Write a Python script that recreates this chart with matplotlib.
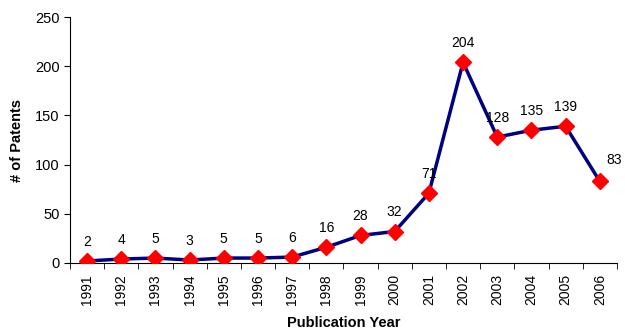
import matplotlib
matplotlib.use("Agg")
import matplotlib.pyplot as plt
import numpy as np

years = ["1991", "1992", "1993", "1994", "1995", "1996", "1997", "1998",
         "1999", "2000", "2001", "2002", "2003", "2004", "2005", "2006"]
patents = [2, 4, 5, 3, 5, 5, 6, 16, 28, 32, 71, 204, 128, 135, 139, 83]

plt.rcParams['font.family'] = ['Liberation Sans', 'DejaVu Sans']

fig = plt.figure(figsize=(6.25, 3.35), dpi=100)
ax = fig.add_axes([0.112, 0.215, 0.875, 0.734])

x = np.arange(len(years))
ax.plot(x, patents, color='#000080', linewidth=2.5, marker='D',
        markersize=8, markerfacecolor='#FF0000', markeredgecolor='#FF0000',
        zorder=3)

for i, v in enumerate(patents):
    if i == len(patents) - 1:
        ax.annotate(str(v), (i, v), xytext=(5, 10), textcoords='offset points',
                    ha='left', va='bottom', fontsize=10)
    else:
        ax.annotate(str(v), (i, v), xytext=(0, 9), textcoords='offset points',
                    ha='center', va='bottom', fontsize=10)

ax.set_xlim(-0.5, len(years) - 0.5)
ax.set_ylim(0, 250)
ax.set_yticks(range(0, 251, 50))
ax.tick_params(axis='y', labelsize=10.5, direction='out', length=4)

ax.set_xticks(x)
ax.set_xticklabels(years, rotation=90, fontsize=10)
ax.tick_params(axis='x', which='major', length=0, pad=8)
ax.set_xticks(np.arange(-0.5, len(years), 1), minor=True)
ax.tick_params(axis='x', which='minor', direction='out', length=4)

for s in ['top', 'right']:
    ax.spines[s].set_visible(False)

ax.set_xlabel('Publication Year', fontsize=10.5, fontweight='bold', labelpad=8)
ax.set_ylabel('# of Patents', fontsize=10.5, fontweight='bold', labelpad=8)

fig.savefig('out.png', dpi=100)
